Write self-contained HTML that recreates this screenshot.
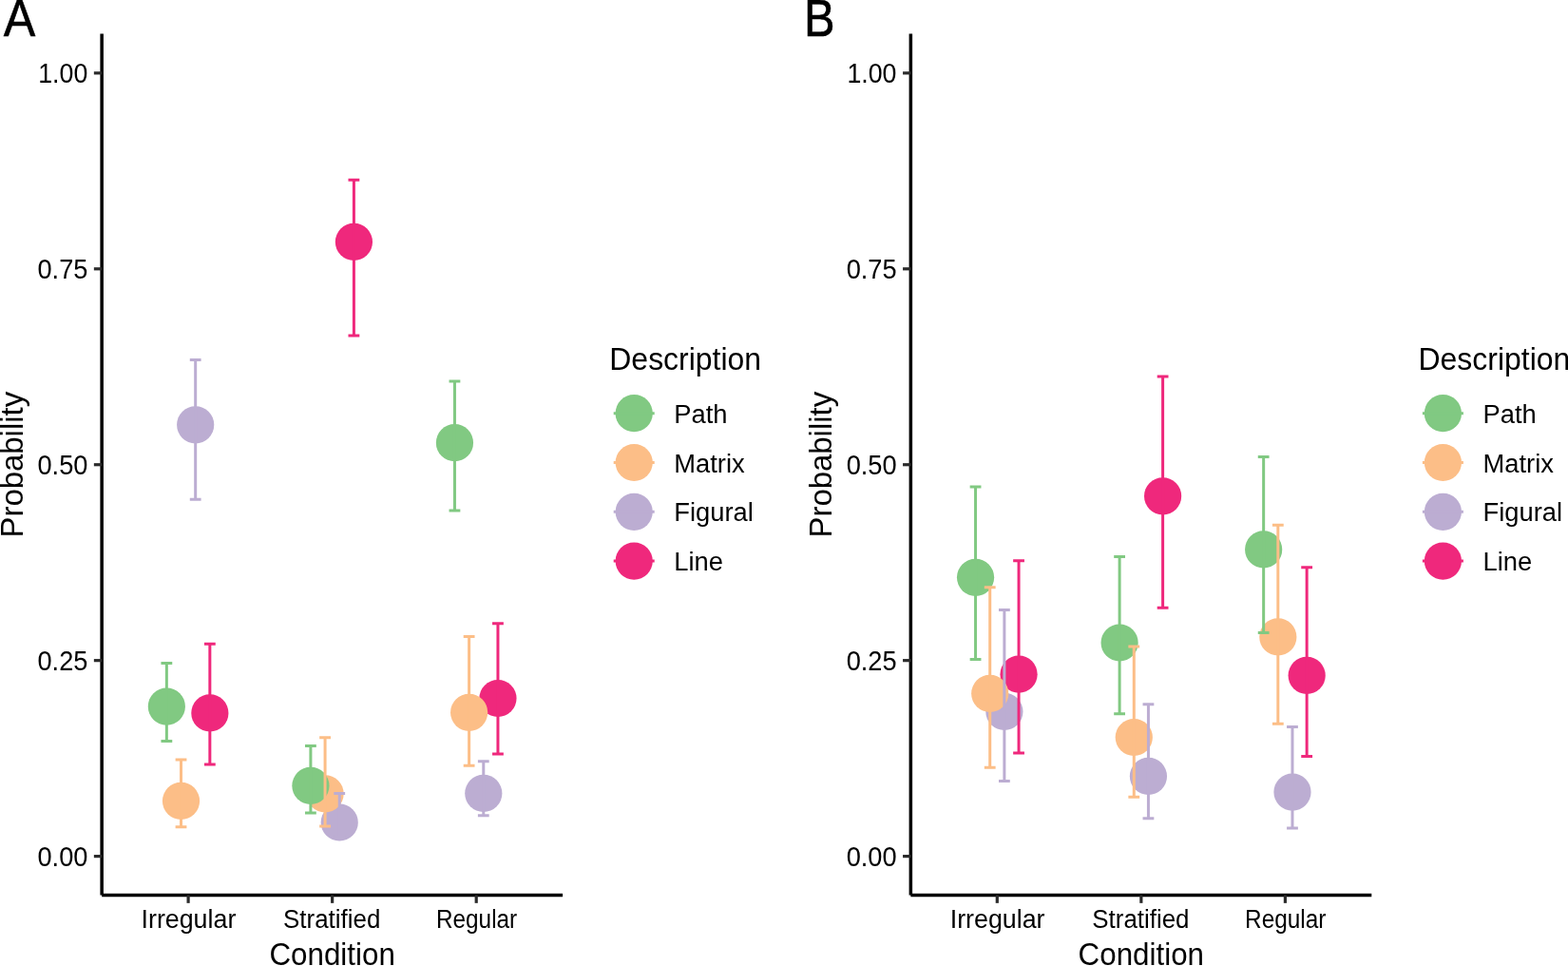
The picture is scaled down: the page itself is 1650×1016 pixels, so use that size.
<!DOCTYPE html>
<html><head><meta charset="utf-8"><title>Probability by Condition</title>
<style>
html,body{margin:0;padding:0;background:#fff;overflow:hidden}
svg{display:block}
svg path{fill:none;stroke-width:3.0}
svg path.ax{stroke:#000;stroke-width:3.5}
svg path.tk{stroke:#2b2b2b;stroke-width:3.2}
.tx text{font-family:'Liberation Sans',Arial,Helvetica,sans-serif;fill:#000}
</style>
</head><body>
<svg width="1650" height="1016" viewBox="0 0 1650 1016">
<rect width="1650" height="1016" fill="#fff"/>
<g transform="translate(0 0)">
<circle cx="205.68" cy="446.8" r="19.6" fill="#BCADD2"/>
<circle cx="357.23" cy="865.0" r="19.6" fill="#BCADD2"/>
<circle cx="508.78" cy="834.4" r="19.6" fill="#BCADD2"/>
<circle cx="220.85" cy="749.9" r="19.6" fill="#EF287C"/>
<circle cx="372.40" cy="254.4" r="19.6" fill="#EF287C"/>
<circle cx="523.95" cy="734.5" r="19.6" fill="#EF287C"/>
<circle cx="190.52" cy="842.4" r="19.6" fill="#FCBE87"/>
<circle cx="342.07" cy="834.8" r="19.6" fill="#FCBE87"/>
<circle cx="493.62" cy="749.3" r="19.6" fill="#FCBE87"/>
<circle cx="175.35" cy="743.1" r="19.6" fill="#81C982"/>
<circle cx="326.90" cy="826.4" r="19.6" fill="#81C982"/>
<circle cx="478.45" cy="465.7" r="19.6" fill="#81C982"/>
<path d="M199.78 378.6H211.58M205.68 378.6V525.3M199.78 525.3H211.58" stroke="#BCADD2"/>
<path d="M351.33 834.4H363.13M357.23 834.4V880.0M351.33 880.0H363.13" stroke="#BCADD2"/>
<path d="M502.88 800.7H514.68M508.78 800.7V857.7M502.88 857.7H514.68" stroke="#BCADD2"/>
<path d="M214.95 677.3H226.75M220.85 677.3V804.0M214.95 804.0H226.75" stroke="#EF287C"/>
<path d="M366.50 189.25H378.30M372.40 189.25V353.1M366.50 353.1H378.30" stroke="#EF287C"/>
<path d="M518.05 655.8H529.85M523.95 655.8V793.0M518.05 793.0H529.85" stroke="#EF287C"/>
<path d="M184.62 799.0H196.42M190.52 799.0V869.7M184.62 869.7H196.42" stroke="#FCBE87"/>
<path d="M336.17 775.8H347.97M342.07 775.8V869.1M336.17 869.1H347.97" stroke="#FCBE87"/>
<path d="M487.72 669.4H499.52M493.62 669.4V805.2M487.72 805.2H499.52" stroke="#FCBE87"/>
<path d="M169.45 697.4H181.25M175.35 697.4V779.4M169.45 779.4H181.25" stroke="#81C982"/>
<path d="M321.00 784.4H332.80M326.90 784.4V855.1M321.00 855.1H332.80" stroke="#81C982"/>
<path d="M472.55 401.0H484.35M478.45 401.0V537.1M472.55 537.1H484.35" stroke="#81C982"/>
<path class="ax" d="M107.15 35.4V941.55M107.15 941.55H592.1"/>
<path class="tk" d="M98.85 900.60H107.15"/>
<path class="tk" d="M98.85 694.66H107.15"/>
<path class="tk" d="M98.85 488.73H107.15"/>
<path class="tk" d="M98.85 282.79H107.15"/>
<path class="tk" d="M98.85 76.85H107.15"/>
<path class="tk" d="M198.1 941.55V949.85"/>
<path class="tk" d="M349.65 941.55V949.85"/>
<path class="tk" d="M501.2 941.55V949.85"/>
<g class="tx">
<text transform="translate(39.50 910.50) scale(1.0000 1.0600)" font-size="27.2">0.00</text>
<text transform="translate(39.50 704.56) scale(1.0000 1.0600)" font-size="27.2">0.25</text>
<text transform="translate(39.50 498.62) scale(1.0000 1.0600)" font-size="27.2">0.50</text>
<text transform="translate(39.50 292.69) scale(1.0000 1.0600)" font-size="27.2">0.75</text>
<text transform="translate(40.23 86.75) scale(0.9830 1.0600)" font-size="27.2">1.00</text>
<text transform="translate(148.50 975.80) scale(0.9860 1.0000)" font-size="27.2">Irregular</text>
<text transform="translate(298.10 975.80) scale(0.9525 1.0000)" font-size="27.2">Stratified</text>
<text transform="translate(458.90 975.80) scale(0.8960 1.0000)" font-size="27.2">Regular</text>
<text transform="translate(283.42 1015.00) scale(0.9860 1.0700)" font-size="31.8">Condition</text>
<text transform="translate(23.80 565.50) rotate(-90) scale(1.0350 1.0700)" font-size="31.8">Probability</text>
<text transform="translate(641.29 388.80) scale(1.0050 1.0700)" font-size="31.8">Description</text>
<text transform="translate(709.30 444.80) scale(1.0050 1.0000)" font-size="27.2">Path</text>
<text transform="translate(709.30 496.60) scale(1.0050 1.0000)" font-size="27.2">Matrix</text>
<text transform="translate(709.30 548.40) scale(1.0050 1.0000)" font-size="27.2">Figural</text>
<text transform="translate(709.30 600.20) scale(1.0050 1.0000)" font-size="27.2">Line</text>
<text stroke="#000" stroke-width="0.55" stroke-linejoin="round" transform="translate(3.75 38.10) scale(1.0060 1.1200)" font-size="50">A</text>
</g>
<circle cx="667.2" cy="434.70" r="19.6" fill="#81C982"/>
<path d="M645.7 434.70H688.7" stroke="#81C982"/>
<circle cx="667.2" cy="486.50" r="19.6" fill="#FCBE87"/>
<path d="M645.7 486.50H688.7" stroke="#FCBE87"/>
<circle cx="667.2" cy="538.30" r="19.6" fill="#BCADD2"/>
<path d="M645.7 538.30H688.7" stroke="#BCADD2"/>
<circle cx="667.2" cy="590.10" r="19.6" fill="#EF287C"/>
<path d="M645.7 590.10H688.7" stroke="#EF287C"/>
</g>
<g transform="translate(851.2 0)">
<circle cx="205.68" cy="748.4" r="19.6" fill="#BCADD2"/>
<circle cx="357.23" cy="816.4" r="19.6" fill="#BCADD2"/>
<circle cx="508.78" cy="833.1" r="19.6" fill="#BCADD2"/>
<circle cx="220.85" cy="709.2" r="19.6" fill="#EF287C"/>
<circle cx="372.40" cy="521.8" r="19.6" fill="#EF287C"/>
<circle cx="523.95" cy="710.4" r="19.6" fill="#EF287C"/>
<circle cx="190.52" cy="729.4" r="19.6" fill="#FCBE87"/>
<circle cx="342.07" cy="775.5" r="19.6" fill="#FCBE87"/>
<circle cx="493.62" cy="669.9" r="19.6" fill="#FCBE87"/>
<circle cx="175.35" cy="607.3" r="19.6" fill="#81C982"/>
<circle cx="326.90" cy="676.0" r="19.6" fill="#81C982"/>
<circle cx="478.45" cy="577.9" r="19.6" fill="#81C982"/>
<path d="M199.78 641.4H211.58M205.68 641.4V821.4M199.78 821.4H211.58" stroke="#BCADD2"/>
<path d="M351.33 740.7H363.13M357.23 740.7V860.8M351.33 860.8H363.13" stroke="#BCADD2"/>
<path d="M502.88 764.6H514.68M508.78 764.6V871.1M502.88 871.1H514.68" stroke="#BCADD2"/>
<path d="M214.95 589.8H226.75M220.85 589.8V792.1M214.95 792.1H226.75" stroke="#EF287C"/>
<path d="M366.50 396.0H378.30M372.40 396.0V639.2M366.50 639.2H378.30" stroke="#EF287C"/>
<path d="M518.05 596.7H529.85M523.95 596.7V795.5M518.05 795.5H529.85" stroke="#EF287C"/>
<path d="M184.62 617.8H196.42M190.52 617.8V807.2M184.62 807.2H196.42" stroke="#FCBE87"/>
<path d="M336.17 680.0H347.97M342.07 680.0V838.2M336.17 838.2H347.97" stroke="#FCBE87"/>
<path d="M487.72 552.3H499.52M493.62 552.3V761.2M487.72 761.2H499.52" stroke="#FCBE87"/>
<path d="M169.45 512.1H181.25M175.35 512.1V693.4M169.45 693.4H181.25" stroke="#81C982"/>
<path d="M321.00 585.5H332.80M326.90 585.5V750.7M321.00 750.7H332.80" stroke="#81C982"/>
<path d="M472.55 480.5H484.35M478.45 480.5V665.6M472.55 665.6H484.35" stroke="#81C982"/>
<path class="ax" d="M107.15 35.4V941.55M107.15 941.55H592.1"/>
<path class="tk" d="M98.85 900.60H107.15"/>
<path class="tk" d="M98.85 694.66H107.15"/>
<path class="tk" d="M98.85 488.73H107.15"/>
<path class="tk" d="M98.85 282.79H107.15"/>
<path class="tk" d="M98.85 76.85H107.15"/>
<path class="tk" d="M198.1 941.55V949.85"/>
<path class="tk" d="M349.65 941.55V949.85"/>
<path class="tk" d="M501.2 941.55V949.85"/>
<g class="tx">
<text transform="translate(39.50 910.50) scale(1.0000 1.0600)" font-size="27.2">0.00</text>
<text transform="translate(39.50 704.56) scale(1.0000 1.0600)" font-size="27.2">0.25</text>
<text transform="translate(39.50 498.62) scale(1.0000 1.0600)" font-size="27.2">0.50</text>
<text transform="translate(39.50 292.69) scale(1.0000 1.0600)" font-size="27.2">0.75</text>
<text transform="translate(40.23 86.75) scale(0.9830 1.0600)" font-size="27.2">1.00</text>
<text transform="translate(148.50 975.80) scale(0.9860 1.0000)" font-size="27.2">Irregular</text>
<text transform="translate(298.10 975.80) scale(0.9525 1.0000)" font-size="27.2">Stratified</text>
<text transform="translate(458.90 975.80) scale(0.8960 1.0000)" font-size="27.2">Regular</text>
<text transform="translate(283.42 1015.00) scale(0.9860 1.0700)" font-size="31.8">Condition</text>
<text transform="translate(23.80 565.50) rotate(-90) scale(1.0350 1.0700)" font-size="31.8">Probability</text>
<text transform="translate(641.29 388.80) scale(1.0050 1.0700)" font-size="31.8">Description</text>
<text transform="translate(709.30 444.80) scale(1.0050 1.0000)" font-size="27.2">Path</text>
<text transform="translate(709.30 496.60) scale(1.0050 1.0000)" font-size="27.2">Matrix</text>
<text transform="translate(709.30 548.40) scale(1.0050 1.0000)" font-size="27.2">Figural</text>
<text transform="translate(709.30 600.20) scale(1.0050 1.0000)" font-size="27.2">Line</text>
<text stroke="#000" stroke-width="0.55" stroke-linejoin="round" transform="translate(-5.30 38.10) scale(0.9760 1.1200)" font-size="50">B</text>
</g>
<circle cx="667.2" cy="434.70" r="19.6" fill="#81C982"/>
<path d="M645.7 434.70H688.7" stroke="#81C982"/>
<circle cx="667.2" cy="486.50" r="19.6" fill="#FCBE87"/>
<path d="M645.7 486.50H688.7" stroke="#FCBE87"/>
<circle cx="667.2" cy="538.30" r="19.6" fill="#BCADD2"/>
<path d="M645.7 538.30H688.7" stroke="#BCADD2"/>
<circle cx="667.2" cy="590.10" r="19.6" fill="#EF287C"/>
<path d="M645.7 590.10H688.7" stroke="#EF287C"/>
</g>
</svg>
</body></html>
